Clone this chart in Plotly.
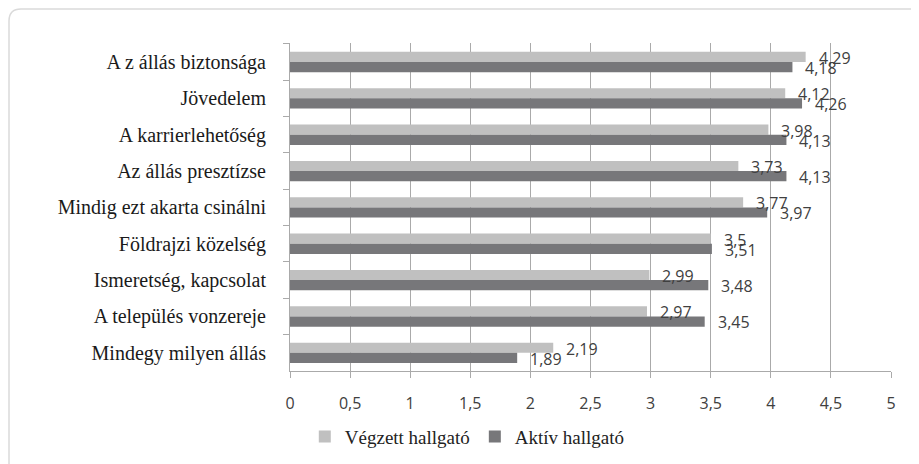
import plotly.graph_objects as go

# Adatok
kategoriak = [
    "A z állás biztonsága",
    "Jövedelem",
    "A karrierlehetőség",
    "Az állás presztízse",
    "Mindig ezt akarta csinálni",
    "Földrajzi közelség",
    "Ismeretség, kapcsolat",
    "A település vonzereje",
    "Mindegy milyen állás",
]
vegzett = [4.29, 4.12, 3.98, 3.73, 3.77, 3.5, 2.99, 2.97, 2.19]
aktiv = [4.18, 4.26, 4.13, 4.13, 3.97, 3.51, 3.48, 3.45, 1.89]
x_ticks = [0, 0.5, 1, 1.5, 2, 2.5, 3, 3.5, 4, 4.5, 5]

VILAGOS = "#c0c0c0"
SOTET = "#77777a"
RACS = "#aaaaaa"
SZOVEG = "#404040"

# az oldal body-margója 8px, ezért a méret ennyivel kisebb
SZ, M = 911, 456
BAL, JOBB, FENT, LENT = 282, 28, 35, 93
PW, PH = SZ - BAL - JOBB, M - FENT - LENT

fig = go.Figure()

fig.add_trace(go.Bar(
    y=kategoriak, x=vegzett, orientation="h",
    name="Végzett hallgató", marker=dict(color=VILAGOS, line=dict(width=0)),
    hoverinfo="x+y",
))
fig.add_trace(go.Bar(
    y=kategoriak, x=aktiv, orientation="h",
    name="Aktív hallgató", marker=dict(color=SOTET, line=dict(width=0)),
    hoverinfo="x+y",
))

def fmt(v):
    return f"{v:g}".replace(".", ",")

# Adatcímkék a sávok végén
for sorozat, eltolas in ((vegzett, 4), (aktiv, -6)):
    for kat, v in zip(kategoriak, sorozat):
        fig.add_annotation(
            x=v, y=kat, text=fmt(v), showarrow=False,
            xanchor="left", xshift=11, yshift=eltolas,
            font=dict(family="Open Sans", size=16, color=SZOVEG),
        )

# Keret lekerekített bal felső sarokkal (papír koordinátákban)
x0 = (1 - BAL) / PW
y0 = (FENT + PH - 1) / PH
rx, ry = 12 / PW, 12 / PH
fig.add_shape(
    type="path", xref="paper", yref="paper",
    path=(f"M {x0},-0.3 L {x0},{y0 - ry} Q {x0},{y0} {x0 + rx},{y0} L 1.2,{y0}"),
    line=dict(color="#dadada", width=1.5),
)

fig.update_layout(
    width=SZ, height=M,
    margin=dict(l=BAL, r=JOBB, t=FENT, b=LENT, autoexpand=False),
    paper_bgcolor="white", plot_bgcolor="white",
    barmode="group", bargap=0.44, bargroupgap=0,
    separators=", ",
    showlegend=True,
    legend=dict(
        orientation="h", x=0.295, y=-0.2, xanchor="center", yanchor="middle",
        font=dict(family="Liberation Serif", size=19, color="#222222"),
        itemwidth=30, traceorder="normal",
    ),
    xaxis=dict(
        range=[0, 5], tickvals=x_ticks,
        showgrid=True, gridcolor=RACS, gridwidth=1,
        showline=True, linecolor=RACS, linewidth=1,
        ticks="outside", ticklen=6, tickcolor=RACS,
        zeroline=False,
        ticklabelstandoff=12,
        tickfont=dict(family="Open Sans", size=16, color=SZOVEG),
    ),
    yaxis=dict(
        autorange="reversed",
        showgrid=False,
        showline=True, linecolor=RACS, linewidth=1,
        ticks="outside", ticklen=6, tickcolor=RACS,
        tickson="boundaries",
        ticklabelstandoff=19,
        tickfont=dict(family="Liberation Serif", size=20, color="#1a1a1a"),
    ),
)

fig.write_html("out.html")
